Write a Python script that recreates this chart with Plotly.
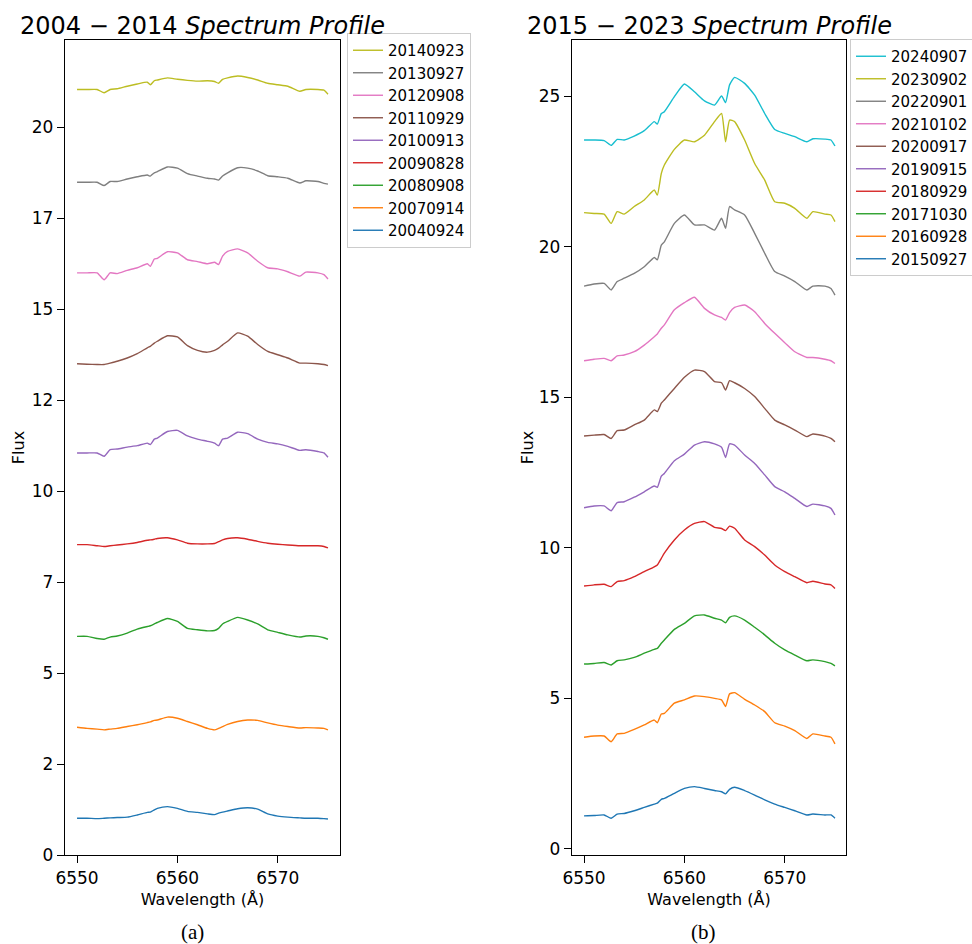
import plotly.graph_objects as go

# ---------------- data ----------------
wavelength = [6550, 6551, 6552, 6552.7, 6553.3, 6554, 6555, 6556, 6557, 6557.3, 6557.7,
              6558, 6559, 6560, 6561, 6562, 6563, 6563.7, 6564.1, 6564.5, 6565, 6566,
              6567, 6568, 6569, 6570, 6571, 6572.2, 6572.8, 6574, 6574.6, 6575]

# panel (a) 2004-2014
f_20040924 = [1.01,1.01,1.00,1.01,1.02,1.03,1.04,1.10,1.17,1.18,1.24,1.28,1.33,1.28,1.20,1.17,1.13,1.11,1.15,1.18,1.21,1.27,1.30,1.26,1.13,1.07,1.04,1.02,1.01,1.01,1.00,0.99]
f_20070914 = [3.51,3.48,3.46,3.44,3.46,3.48,3.53,3.58,3.64,3.66,3.70,3.71,3.79,3.76,3.67,3.58,3.48,3.44,3.48,3.53,3.59,3.67,3.71,3.70,3.63,3.57,3.53,3.49,3.50,3.49,3.48,3.44]
f_20080908 = [6.01,6.01,5.95,5.93,5.99,6.02,6.10,6.21,6.28,6.30,6.35,6.39,6.50,6.42,6.23,6.19,6.16,6.17,6.23,6.35,6.42,6.53,6.46,6.35,6.19,6.12,6.05,5.99,6.02,6.01,5.97,5.93]
f_20090828 = [8.53,8.53,8.50,8.48,8.50,8.52,8.55,8.59,8.65,8.66,8.68,8.70,8.72,8.66,8.57,8.55,8.55,8.56,8.61,8.66,8.70,8.72,8.68,8.62,8.57,8.54,8.52,8.50,8.50,8.50,8.48,8.44]
f_20100913 = [11.05,11.05,11.05,10.96,11.14,11.16,11.21,11.25,11.32,11.28,11.43,11.46,11.64,11.67,11.52,11.43,11.37,11.32,11.25,11.43,11.46,11.62,11.58,11.43,11.34,11.30,11.23,11.12,11.14,11.09,11.05,10.93]
f_20110929 = [13.50,13.49,13.48,13.48,13.52,13.57,13.66,13.78,13.94,13.98,14.07,14.12,14.27,14.24,14.00,13.87,13.82,13.87,13.93,14.02,14.12,14.35,14.26,14.03,13.84,13.75,13.66,13.52,13.52,13.50,13.48,13.45]
f_20120908 = [16.00,16.00,16.00,15.81,16.00,15.98,16.07,16.14,16.25,16.18,16.38,16.40,16.58,16.55,16.36,16.31,16.25,16.29,16.23,16.46,16.59,16.66,16.55,16.32,16.14,16.11,16.03,15.91,16.02,16.00,15.95,15.83]
f_20130927 = [18.49,18.49,18.49,18.40,18.51,18.51,18.58,18.64,18.69,18.66,18.75,18.78,18.91,18.88,18.73,18.66,18.60,18.58,18.55,18.66,18.75,18.89,18.88,18.80,18.67,18.64,18.60,18.47,18.53,18.51,18.46,18.44]
f_20140923 = [21.04,21.04,21.04,20.95,21.04,21.06,21.13,21.19,21.24,21.17,21.28,21.30,21.36,21.32,21.29,21.27,21.28,21.26,21.21,21.32,21.36,21.41,21.37,21.30,21.21,21.17,21.13,20.99,21.04,21.04,21.02,20.91]

# panel (b) 2015-2023
f_20150927 = [1.10,1.11,1.13,1.02,1.16,1.18,1.27,1.38,1.49,1.52,1.65,1.68,1.85,2.01,2.07,2.01,1.94,1.90,1.83,1.98,2.05,1.94,1.79,1.63,1.49,1.38,1.27,1.13,1.16,1.13,1.13,1.02]
f_20160928 = [3.71,3.75,3.75,3.56,3.82,3.84,3.97,4.12,4.28,4.19,4.48,4.50,4.84,4.95,5.08,5.06,5.00,4.95,4.73,5.15,5.19,4.97,4.78,4.56,4.19,4.08,3.93,3.67,3.82,3.75,3.71,3.49]
f_20171030 = [6.14,6.16,6.19,6.11,6.25,6.28,6.36,6.50,6.63,6.66,6.83,6.94,7.29,7.49,7.74,7.77,7.66,7.60,7.51,7.69,7.74,7.60,7.36,7.11,6.83,6.61,6.44,6.25,6.28,6.22,6.16,6.08]
f_20180929 = [8.73,8.77,8.79,8.71,8.88,8.91,9.04,9.21,9.37,9.43,9.65,9.82,10.26,10.59,10.81,10.87,10.68,10.64,10.57,10.72,10.65,10.26,10.04,9.76,9.43,9.21,9.04,8.84,8.89,8.80,8.77,8.65]
f_20190915 = [11.33,11.39,11.39,11.23,11.50,11.53,11.68,11.86,12.05,12.01,12.38,12.47,12.89,13.11,13.41,13.52,13.45,13.34,13.00,13.45,13.41,13.08,12.80,12.42,12.03,11.86,11.64,11.37,11.45,11.39,11.31,11.09]
f_20200917 = [13.71,13.74,13.76,13.63,13.89,13.91,14.08,14.24,14.58,14.52,14.80,14.91,15.29,15.66,15.90,15.85,15.52,15.48,15.24,15.55,15.48,15.29,15.02,14.63,14.24,14.08,13.91,13.69,13.78,13.71,13.63,13.52]
f_20210102 = [16.21,16.26,16.29,16.21,16.37,16.40,16.51,16.73,17.01,17.10,17.29,17.40,17.90,18.14,18.32,17.95,17.73,17.65,17.56,17.81,17.98,18.06,17.84,17.45,17.12,16.81,16.51,16.32,16.32,16.26,16.21,16.12]
f_20220901 = [18.69,18.76,18.78,18.56,18.84,18.95,19.11,19.33,19.64,19.56,20.05,20.16,20.77,21.05,20.72,20.72,20.55,20.94,20.61,21.33,21.22,21.05,20.44,19.78,19.17,19.02,18.84,18.56,18.69,18.69,18.61,18.39]
f_20230902 = [21.13,21.10,21.08,20.77,21.16,21.08,21.33,21.55,21.88,21.71,22.43,22.71,23.23,23.54,23.48,23.70,24.15,24.42,23.48,24.20,24.15,23.54,22.76,22.21,21.49,21.44,21.27,20.94,21.16,21.08,21.05,20.83]
f_20240907 = [23.54,23.54,23.52,23.36,23.56,23.54,23.67,23.85,24.15,24.07,24.42,24.48,24.98,25.40,25.14,24.84,24.70,25.00,24.78,25.37,25.62,25.42,25.03,24.42,23.89,23.76,23.65,23.48,23.58,23.57,23.54,23.34]

labels_a = ["20040924", "20070914", "20080908", "20090828", "20100913",
            "20110929", "20120908", "20130927", "20140923"]
series_a = [f_20040924, f_20070914, f_20080908, f_20090828, f_20100913,
            f_20110929, f_20120908, f_20130927, f_20140923]
labels_b = ["20150927", "20160928", "20171030", "20180929", "20190915",
            "20200917", "20210102", "20220901", "20230902", "20240907"]
series_b = [f_20150927, f_20160928, f_20171030, f_20180929, f_20190915,
            f_20200917, f_20210102, f_20220901, f_20230902, f_20240907]

yticks_a = [0, 2.5, 5, 7.5, 10, 12.5, 15, 17.5, 20]
yticklabels_a = ["0", "2", "5", "7", "10", "12", "15", "17", "20"]
yticks_b = [0, 5, 10, 15, 20, 25]
xticks = [6550, 6560, 6570]

colors = ["#1f77b4", "#ff7f0e", "#2ca02c", "#d62728", "#9467bd",
          "#8c564b", "#e377c2", "#7f7f7f", "#bcbd22", "#17becf"]

# ---------------- figure ----------------
W, H = 972, 944
ML, MR, MT, MB = 65, 126, 40, 89
PW = W - ML - MR

def px_x(p):
    return (p - ML) / PW

fig = go.Figure()
for i, (lab, ys) in enumerate(zip(labels_a, series_a)):
    fig.add_trace(go.Scatter(x=wavelength, y=ys, mode="lines", name=lab,
                             line=dict(color=colors[i], width=1.4, shape="spline", smoothing=0.5),
                             xaxis="x", yaxis="y", legend="legend"))
for i, (lab, ys) in enumerate(zip(labels_b, series_b)):
    fig.add_trace(go.Scatter(x=wavelength, y=ys, mode="lines", name=lab,
                             line=dict(color=colors[i], width=1.4, shape="spline", smoothing=0.5),
                             xaxis="x2", yaxis="y2", legend="legend2"))

font_main = "DejaVu Sans"
axis_common = dict(showline=True, linecolor="black", linewidth=1.4, mirror=True,
                   ticks="outside", ticklen=7, tickwidth=1.4, tickcolor="black",
                   showgrid=False, zeroline=False,
                   tickfont=dict(family=font_main, size=17, color="black"))

fig.update_layout(
    width=W, height=H,
    margin=dict(l=ML, r=MR, t=MT, b=MB, autoexpand=False),
    paper_bgcolor="white", plot_bgcolor="white",
    xaxis=dict(domain=[0, px_x(340)], range=[6548.8, 6576.2], tickvals=xticks,
               anchor="y",
               title=dict(text="Wavelength (Å)", font=dict(family=font_main, size=16, color="black"), standoff=7),
               **axis_common),
    yaxis=dict(domain=[0, 1], range=[0, 22.4], tickvals=yticks_a, ticktext=yticklabels_a,
               anchor="x",
               title=dict(text="Flux", font=dict(family=font_main, size=16, color="black"), standoff=3),
               **axis_common),
    xaxis2=dict(domain=[px_x(572), 1], range=[6548.8, 6576.1], tickvals=xticks,
                anchor="y2",
                title=dict(text="Wavelength (Å)", font=dict(family=font_main, size=16, color="black"), standoff=7),
                **axis_common),
    yaxis2=dict(domain=[0, 1], range=[-0.2, 26.86], tickvals=yticks_b,
                anchor="x2",
                title=dict(text="Flux", font=dict(family=font_main, size=16, color="black"), standoff=1),
                **axis_common),
    legend=dict(x=px_x(347), y=(855 - 33) / 815, xanchor="left", yanchor="top",
                traceorder="reversed", bgcolor="white", bordercolor="#cccccc", borderwidth=1,
                font=dict(family=font_main, size=15, color="black")),
    legend2=dict(x=px_x(850), y=(855 - 39) / 815, xanchor="left", yanchor="top",
                 traceorder="reversed", bgcolor="white", bordercolor="#cccccc", borderwidth=1,
                 font=dict(family=font_main, size=15, color="black")),
    showlegend=True,
)

fig.add_annotation(text="2004 − 2014 <i>Spectrum Profile</i>", xref="paper", yref="paper",
                   x=px_x(202), y=1, xanchor="center", yanchor="bottom", yshift=-2, showarrow=False,
                   font=dict(family=font_main, size=24, color="black"))
fig.add_annotation(text="2015 − 2023 <i>Spectrum Profile</i>", xref="paper", yref="paper",
                   x=px_x(709), y=1, xanchor="center", yanchor="bottom", yshift=-2, showarrow=False,
                   font=dict(family=font_main, size=24, color="black"))
fig.add_annotation(text="(a)", xref="paper", yref="paper",
                   x=px_x(192), y=(855 - 932) / 815, xanchor="center", yanchor="middle", showarrow=False,
                   font=dict(family="Liberation Serif", size=21, color="black"))
fig.add_annotation(text="(b)", xref="paper", yref="paper",
                   x=px_x(703), y=(855 - 932) / 815, xanchor="center", yanchor="middle", showarrow=False,
                   font=dict(family="Liberation Serif", size=21, color="black"))

fig.write_html("out.html", config={"displayModeBar": False},
               post_script="document.body.style.margin='0';document.body.style.overflow='hidden';")
